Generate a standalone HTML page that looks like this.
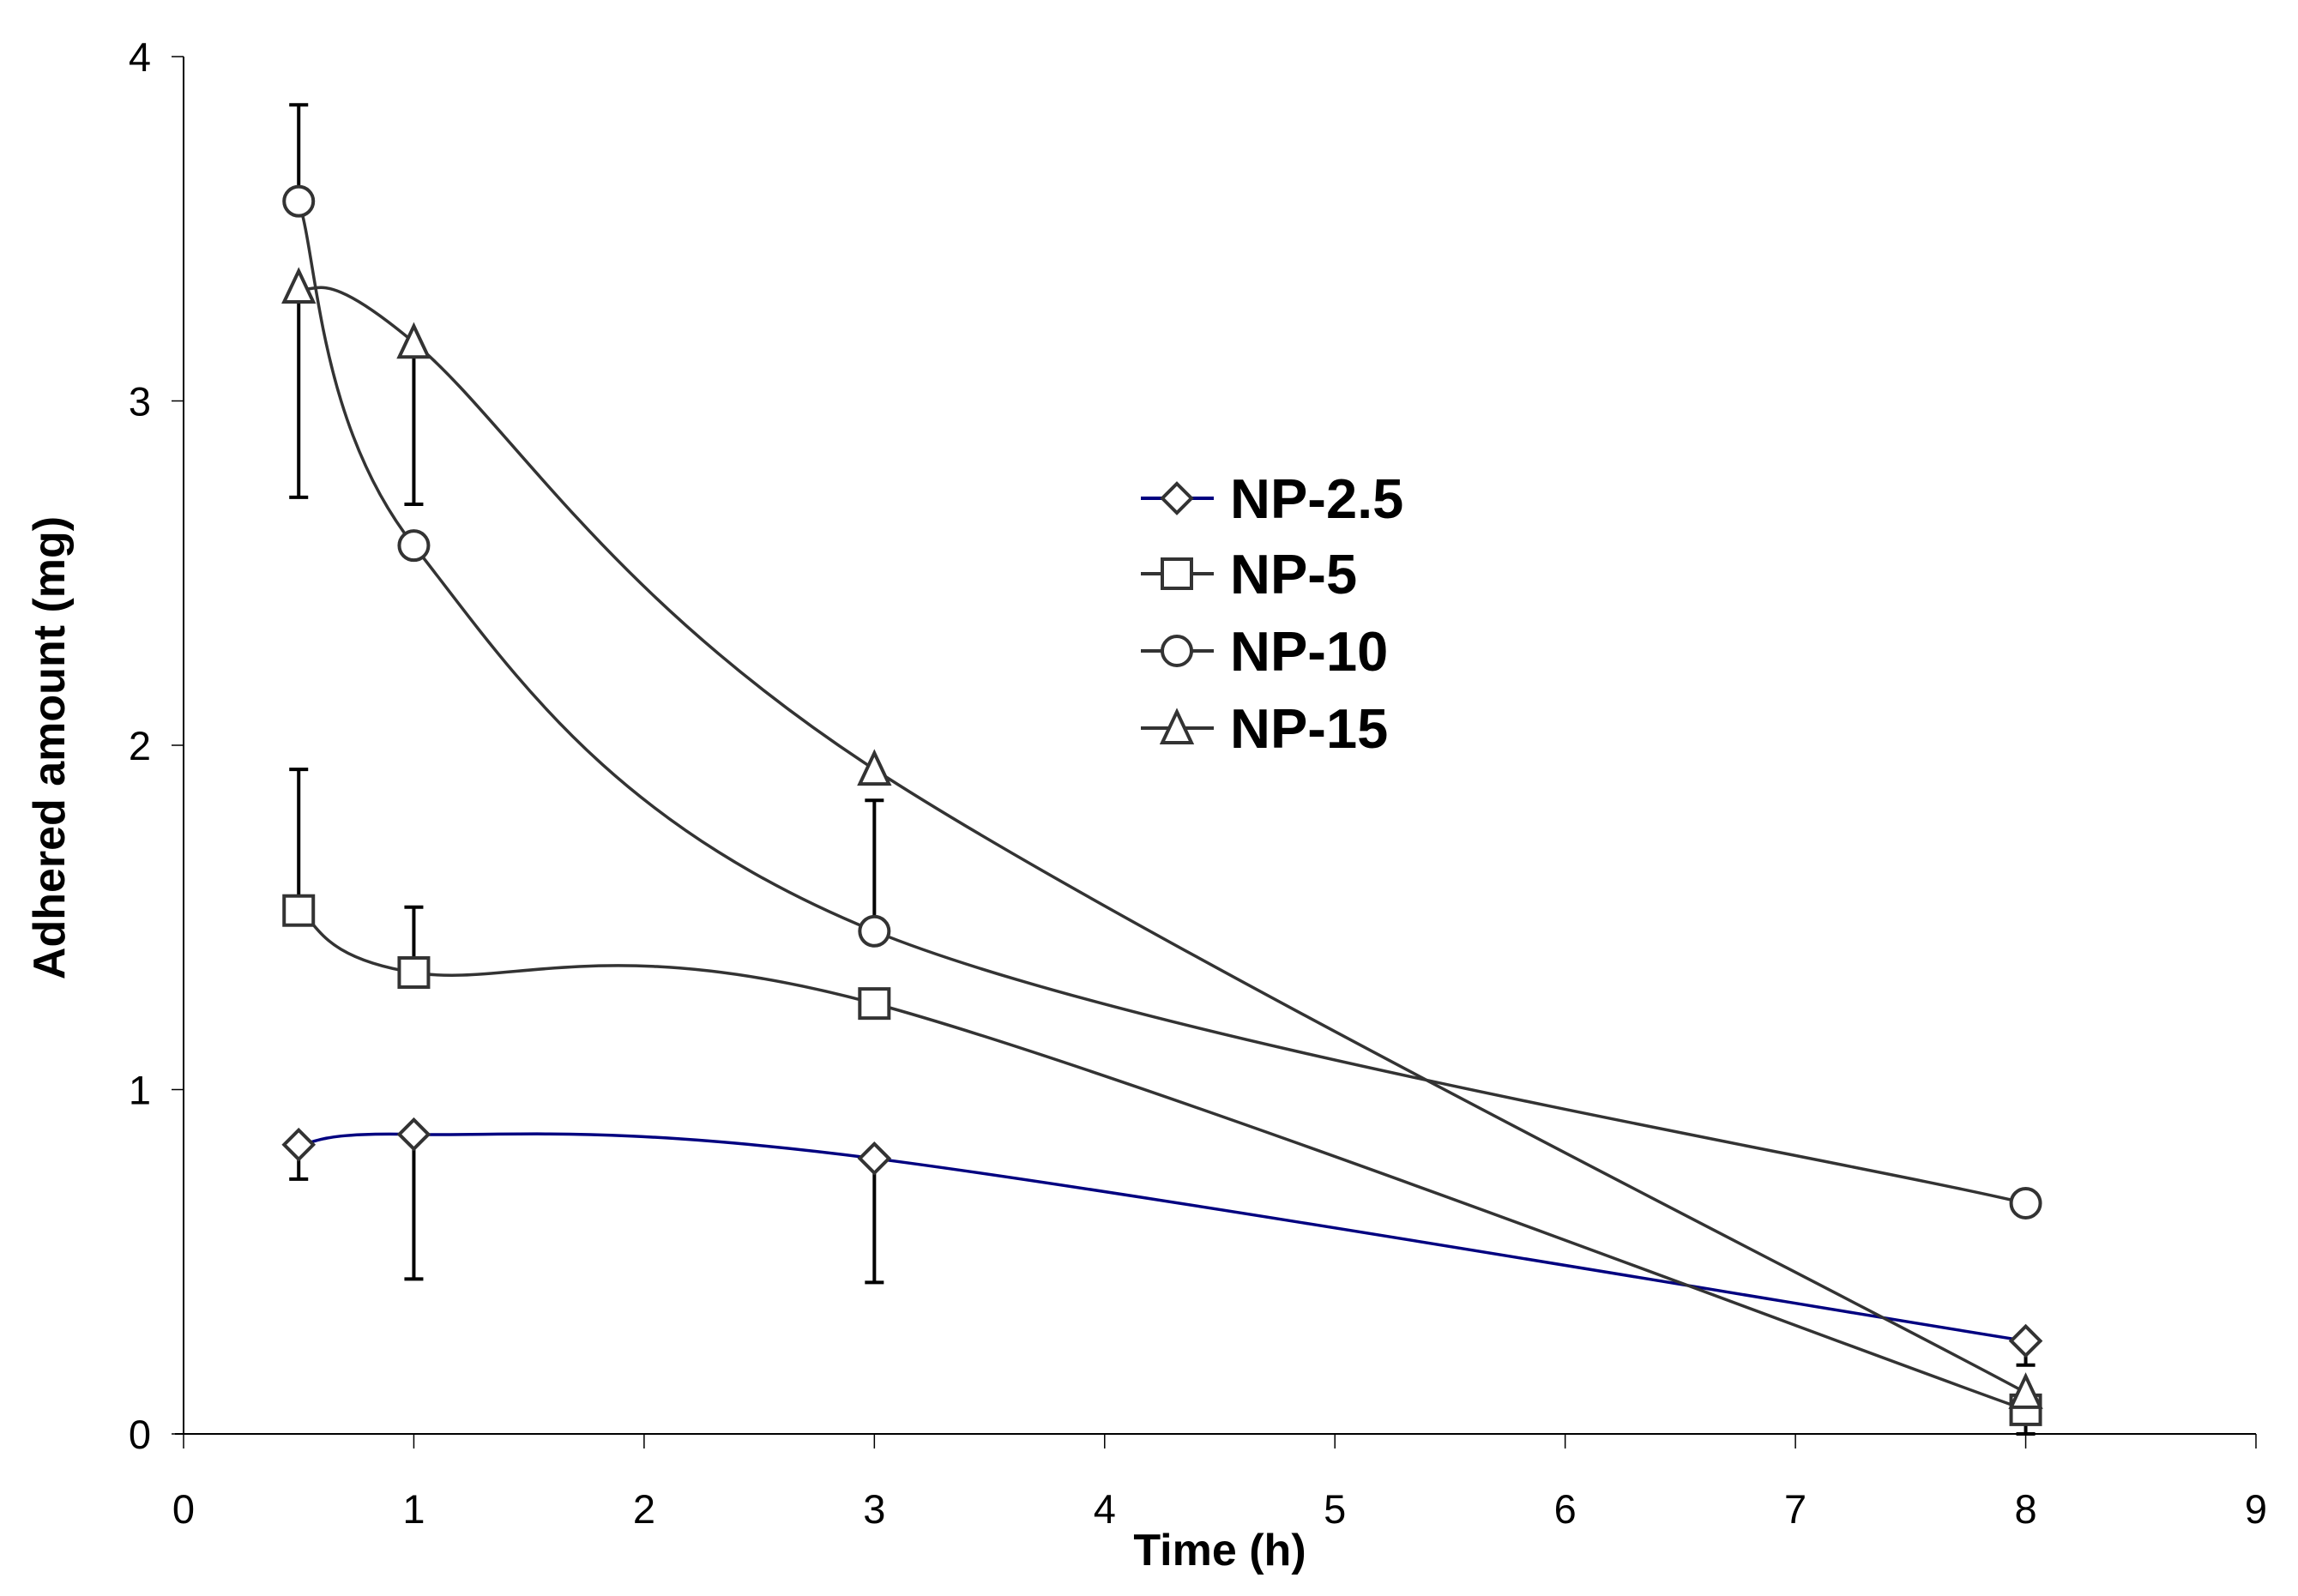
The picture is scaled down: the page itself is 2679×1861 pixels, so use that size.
<!DOCTYPE html>
<html><head><meta charset="utf-8"><style>
html,body{margin:0;padding:0;background:#fff;}
svg{display:block;font-family:"Liberation Sans",Arial,sans-serif;}
</style></head><body>
<svg id="chart" width="2679" height="1861" viewBox="0 0 2679 1861" xmlns="http://www.w3.org/2000/svg">
<rect width="2679" height="1861" fill="#fff"/>
<g id="axes"></g>
<g id="series"></g>
<g id="legend"></g>
<text x="1422" y="1825" font-size="52" font-weight="bold" text-anchor="middle">Time (h)</text>
<text transform="translate(75,872) rotate(-90)" font-size="52" font-weight="bold" text-anchor="middle">Adhered amount (mg)</text>
</svg>
<script>
const times = [0.5, 1, 3, 8];
const seriesNames = ['NP-2.5', 'NP-5', 'NP-10', 'NP-15'];
const np25 = [0.84, 0.87, 0.80, 0.27];
const np5 = [1.52, 1.34, 1.25, 0.07];
const np10 = [3.58, 2.58, 1.46, 0.67];
const np15 = [3.33, 3.17, 1.93, 0.12];
const np25Err = [0.74, 0.45, 0.44, 0.20];
const np5Err = [1.93, 1.53, 1.25, 0.00];
const np10Err = [3.86, 2.58, 1.84, 0.67];
const np15Err = [2.72, 2.70, 1.93, 0.12];
const xTicks = [0,1,2,3,4,5,6,7,8,9];
const yTicks = [0,1,2,3,4];

const NS='http://www.w3.org/2000/svg';
const X0=214, X1=2630, Y0=1672, Y1=66;
const xs=v=>X0+(X1-X0)*v/9;
const ys=v=>Y0-(Y0-Y1)*v/4;
function mk(tag,attrs,parent){const e=document.createElementNS(NS,tag);for(const k in attrs)e.setAttribute(k,attrs[k]);parent.appendChild(e);return e;}
const axes=document.getElementById('axes');
let e=mk('line',{x1:X0,y1:Y1,x2:X0,y2:Y0,stroke:'#000','stroke-width':2},axes);


e=mk('line',{x1:X0-10,y1:Y0,x2:X1,y2:Y0,stroke:'#000','stroke-width':2},axes);


xTicks.forEach(t=>{
  const x=xs(t);
  let l=mk('line',{x1:x,y1:Y0,x2:x,y2:Y0+17,stroke:'#000','stroke-width':1.5},axes);
  
  
  let tx=mk('text',{x:x,y:1776,'font-size':47,'text-anchor':'middle'},axes);
  tx.textContent=t;
  
  
});
yTicks.forEach(t=>{
  const y=ys(t);
  let l=mk('line',{x1:X0-14,y1:y,x2:X0,y2:y,stroke:'#000','stroke-width':1.5},axes);
  
  
  let tx=mk('text',{x:176,y:y+17,'font-size':47,'text-anchor':'end'},axes);
  tx.textContent=t;
  
  
});
function smooth(pts){
  let d='M'+pts[0][0]+','+pts[0][1];
  for(let i=0;i<pts.length-1;i++){
    const p0=pts[i-1]||pts[i],p1=pts[i],p2=pts[i+1],p3=pts[i+2]||pts[i+1];
    const c1=[p1[0]+(p2[0]-p0[0])/6,p1[1]+(p2[1]-p0[1])/6];
    const c2=[p2[0]-(p3[0]-p1[0])/6,p2[1]-(p3[1]-p1[1])/6];
    d+=' C'+c1+' '+c2+' '+p2;
  }
  return d;
}
function marker(type,x,y,parent){
  const st={fill:'#fff',stroke:'#333','stroke-width':4};
  const r=17;let m;
  if(type==='diamond')m=mk('polygon',Object.assign({points:`${x},${y-r} ${x+r},${y} ${x},${y+r} ${x-r},${y}`},st),parent);
  else if(type==='square')m=mk('rect',Object.assign({x:x-r,y:y-r,width:2*r,height:2*r},st),parent);
  else if(type==='circle')m=mk('circle',Object.assign({cx:x,cy:y,r:r},st),parent);
  else m=mk('polygon',Object.assign({points:`${x},${y-r-2} ${x+r},${y+r} ${x-r},${y+r}`},st),parent);
  return m;
}
const seriesVals=[np25,np5,np10,np15];
const seriesErr=[np25Err,np5Err,np10Err,np15Err];
const colors=['#000080','#333','#333','#333'];
const markers=['diamond','square','circle','triangle'];
const sg=document.getElementById('series');
const errG=mk('g',{},sg);


seriesVals.forEach((vals,si)=>{
  vals.forEach((v,i)=>{
    const ev=seriesErr[si][i];
    if(Math.abs(ev-v)<0.001)return;
    const x=xs(times[i]);
    let l=mk('line',{x1:x,y1:ys(v),x2:x,y2:ys(ev),stroke:'#000','stroke-width':4},errG);
    
    
    let c=mk('line',{x1:x-11,y1:ys(ev),x2:x+11,y2:ys(ev),stroke:'#000','stroke-width':4},errG);
    
    
  });
});
seriesVals.forEach((vals,si)=>{
  const g=mk('g',{},sg);
  
  
  const pts=vals.map((v,i)=>[xs(times[i]),ys(v)]);
  let p=mk('path',{d:smooth(pts),fill:'none',stroke:colors[si],'stroke-width':3.5},g);
  
  
  pts.forEach(pt=>{
    const m=marker(markers[si],pt[0],pt[1],g);
    
    
  });
});
const lg=document.getElementById('legend');
const legY=[581,669,759,849];
seriesNames.forEach((n,i)=>{
  const g=mk('g',{},lg);
  
  
  let l=mk('line',{x1:1330,y1:legY[i],x2:1415,y2:legY[i],stroke:colors[i],'stroke-width':4},g);
  
  
  const m=marker(markers[i],1372,legY[i],g);
  
  
  const t=mk('text',{x:1434,y:legY[i]+23,'font-size':65,'font-weight':'bold'},g);
  t.textContent=n;
  
  
});
</script>
</body></html>
